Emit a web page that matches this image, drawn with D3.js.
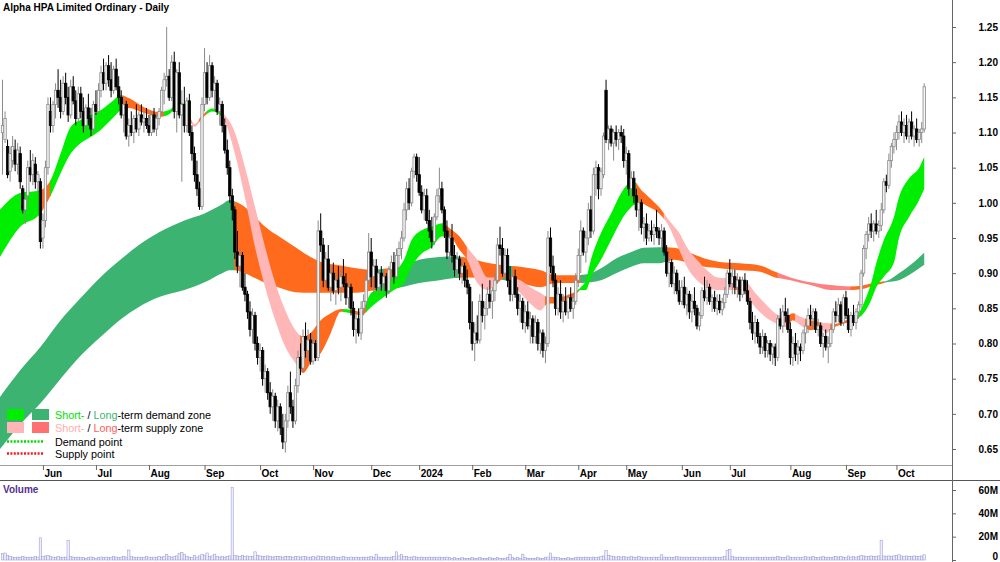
<!DOCTYPE html>
<html>
<head>
<meta charset="utf-8">
<script src="https://cdn.jsdelivr.net/npm/d3@7"></script>
<style>
  body { margin: 0; background: #fff; }
  text { font-family: "Liberation Sans", Arial, sans-serif; }
</style>
</head>
<body>
<svg id="chart" width="1000" height="562"></svg>
<script>
// ---- data (prices in thousandths of a dollar, volume in millions) ----
var title = "Alpha HPA Limited Ordinary - Daily";

var monthLabels = ["Jun","Jul","Aug","Sep","Oct","Nov","Dec","2024","Feb","Mar","Apr","May","Jun","Jul","Aug","Sep","Oct"];
var monthIdx = [16,37,58,80,102,123,146,165,186,207,228,247,269,288,312,334,354];

var priceTicks = [0.65,0.70,0.75,0.80,0.85,0.90,0.95,1.00,1.05,1.10,1.15,1.20,1.25];
var volTicks = [0, 20, 40, 60];
var volTickLabels = ["0", "20M", "40M", "60M"];

var opens = [
  1100,1090,1080,1045,1060,1075,1055,1070,1020,990,
  1010,1050,1040,1055,1030,1030,950,975,1050,1130,
  1110,1140,1160,1150,1130,1170,1150,1125,1165,1145,
  1120,1155,1130,1110,1135,1120,1105,1140,1130,1160,
  1185,1170,1195,1175,1160,1190,1165,1150,1125,1140,
  1095,1110,1100,1120,1105,1125,1115,1120,1110,1100,
  1125,1105,1120,1130,1160,1175,1180,1150,1200,1130,
  1185,1125,1140,1110,1145,1100,1070,1040,1020,995,
  1140,1185,1150,1195,1160,1170,1130,1140,1110,1075,
  1050,1010,990,930,910,925,880,870,845,820,
  840,800,780,790,750,760,730,710,725,690,
  710,680,660,690,730,710,690,740,780,765,
  810,790,805,775,800,780,960,940,890,920,
  880,900,875,890,880,895,885,865,880,850,
  820,835,815,850,860,890,930,895,910,880,
  900,885,895,875,905,915,895,925,935,950,
  990,1020,1000,1045,1065,1040,1015,990,1010,975,
  960,945,980,1010,1020,990,960,930,950,925,
  905,920,900,910,890,880,830,800,815,805,
  860,840,850,870,860,875,890,940,935,900,
  925,890,870,895,870,850,860,830,845,825,
  835,810,830,800,815,790,800,950,910,890,
  850,870,845,860,845,865,850,860,890,925,
  960,930,950,990,960,1040,1050,1020,1040,1160,
  1090,1105,1085,1100,1090,1100,1095,1060,1070,1020,
  1035,1010,990,1000,965,970,950,960,955,965,
  960,950,960,930,900,915,885,900,875,860,
  880,855,870,845,860,850,825,840,875,865,
  880,860,865,850,860,848,858,870,900,885,
  895,880,890,870,890,875,860,830,815,830,
  810,795,810,790,800,785,795,780,835,825,
  845,840,820,780,800,785,795,790,815,825,
  840,835,845,820,825,800,810,795,800,820,
  845,840,855,830,865,840,820,840,830,845,
  855,900,935,955,970,960,970,960,968,990,
  1030,1025,1060,1080,1090,1100,1115,1100,1110,1095,
  1115,1095,1105,1090,1100,1105
];
var highs = [
  1175,1130,1090,1080,1095,1090,1085,1080,1025,1010,
  1060,1075,1070,1065,1045,1035,985,1060,1150,1150,
  1145,1170,1190,1175,1180,1185,1165,1175,1180,1160,
  1165,1165,1150,1140,1155,1135,1145,1160,1170,1195,
  1205,1200,1210,1200,1195,1205,1180,1160,1150,1145,
  1120,1130,1125,1140,1130,1140,1130,1135,1125,1130,
  1135,1125,1135,1165,1185,1250,1190,1210,1215,1190,
  1200,1160,1165,1150,1155,1110,1080,1060,1030,1150,
  1220,1200,1210,1200,1180,1175,1150,1145,1120,1090,
  1060,1020,995,960,935,930,900,875,860,850,
  845,810,800,795,770,765,745,735,730,720,
  715,700,700,740,760,720,750,790,800,820,
  830,820,815,810,805,975,985,950,930,940,
  910,915,900,910,905,920,900,890,885,860,
  845,850,860,870,900,957,950,920,920,905,
  910,905,900,910,925,930,935,945,960,1000,
  1030,1035,1050,1070,1070,1065,1025,1020,1020,990,
  980,985,1020,1050,1030,995,975,960,970,940,
  930,925,920,915,905,885,860,830,840,870,
  885,860,880,890,880,900,950,966,950,935,
  935,910,900,905,880,870,865,855,860,845,
  840,840,835,820,820,810,960,965,925,900,
  880,890,870,880,870,880,870,900,935,975,
  965,960,1000,1010,1050,1060,1055,1050,1100,1175,
  1110,1110,1105,1110,1105,1110,1105,1080,1075,1045,
  1045,1020,1010,1005,980,985,970,975,970,990,
  965,970,965,940,925,920,910,905,890,890,
  895,880,875,870,880,855,845,880,895,890,
  885,870,875,870,870,865,880,905,920,910,
  905,900,895,895,900,890,865,845,840,835,
  815,820,815,805,805,800,800,840,850,855,
  865,850,830,810,815,805,800,820,830,850,
  855,850,850,835,830,815,820,810,825,850,
  860,865,860,870,875,850,845,855,850,860,
  905,940,960,980,985,975,990,975,1000,1035,
  1040,1070,1085,1100,1110,1125,1130,1120,1125,1120,
  1130,1110,1120,1105,1115,1170
];
var lows = [
  1040,1085,1035,1030,1050,1045,1040,1020,985,970,
  1000,1030,1025,1020,1015,935,935,965,1040,1100,
  1100,1120,1135,1120,1125,1140,1115,1120,1140,1110,
  1115,1120,1100,1100,1110,1095,1100,1125,1125,1150,
  1160,1160,1165,1150,1155,1160,1140,1120,1100,1090,
  1080,1095,1085,1100,1095,1110,1100,1105,1095,1095,
  1100,1095,1110,1125,1140,1165,1145,1145,1120,1100,
  1120,1030,1100,1100,1095,1060,1030,1010,990,990,
  1130,1140,1145,1150,1130,1125,1110,1100,1070,1040,
  1000,975,920,900,880,875,860,835,810,800,
  790,770,760,740,730,720,700,690,680,675,
  670,650,645,680,700,680,685,730,755,760,
  780,775,770,770,775,775,930,880,885,875,
  860,870,855,870,860,880,855,850,840,810,
  800,810,805,840,850,885,880,870,875,870,
  875,870,865,870,890,885,890,905,920,945,
  975,990,995,1035,1030,1010,985,975,970,950,
  935,940,975,1000,985,950,920,905,915,895,
  895,890,885,880,870,820,790,775,800,800,
  830,820,840,850,835,860,885,925,895,890,
  880,860,860,865,840,830,820,815,820,800,
  800,800,790,785,780,772,795,900,880,840,
  840,835,830,840,835,845,835,855,880,900,
  925,915,940,950,955,1010,1005,1010,1035,1085,
  1075,1080,1060,1080,1075,1085,1050,1040,1010,1005,
  1000,980,960,955,945,940,945,945,940,950,
  940,935,925,895,880,880,870,870,855,855,
  850,840,835,830,840,820,818,835,860,855,
  855,845,845,840,843,840,850,865,880,870,
  870,865,860,865,870,855,820,805,800,800,
  785,785,780,780,775,770,768,775,820,815,
  830,815,770,768,775,770,775,785,800,815,
  825,820,815,810,795,780,790,772,795,815,
  830,830,825,825,835,815,810,825,820,835,
  850,895,920,945,950,945,955,950,960,985,
  1015,1020,1050,1070,1075,1090,1095,1085,1090,1085,
  1090,1080,1085,1080,1085,1100
];
var closes = [
  1110,1120,1040,1070,1080,1055,1075,1030,990,1005,
  1050,1040,1060,1030,1040,945,975,1050,1140,1110,
  1140,1160,1150,1130,1170,1150,1125,1165,1145,1120,
  1155,1130,1110,1135,1120,1105,1140,1130,1160,1185,
  1170,1195,1175,1160,1190,1165,1150,1125,1140,1095,
  1110,1100,1120,1105,1125,1115,1120,1110,1100,1125,
  1105,1120,1130,1160,1175,1180,1150,1200,1130,1185,
  1125,1140,1110,1145,1100,1070,1040,1020,995,1140,
  1185,1150,1195,1160,1170,1130,1140,1110,1075,1050,
  1010,990,930,910,925,880,870,845,820,840,
  800,780,790,750,760,730,710,725,690,710,
  680,660,690,730,710,690,740,780,765,810,
  790,805,775,800,780,960,940,890,920,880,
  900,875,890,880,895,885,865,880,850,820,
  835,815,850,860,890,930,895,910,880,900,
  885,895,875,905,915,895,925,935,950,990,
  1020,1000,1045,1065,1040,1015,990,1010,975,960,
  945,980,1010,1020,990,960,930,950,925,905,
  920,900,910,890,880,830,800,815,805,860,
  840,850,870,860,875,890,940,935,900,925,
  890,870,895,870,850,860,830,845,825,835,
  810,830,800,815,790,800,950,910,890,850,
  870,845,860,845,865,850,860,890,925,960,
  930,950,990,960,1040,1050,1020,1045,1095,1090,
  1105,1085,1100,1090,1100,1095,1060,1070,1020,1035,
  1010,990,1000,965,970,950,960,955,965,960,
  950,960,930,900,915,885,900,875,860,880,
  855,870,845,860,850,825,840,875,865,880,
  860,865,850,860,848,858,870,900,885,895,
  880,890,870,890,875,860,830,815,830,810,
  795,810,790,800,785,795,780,835,825,845,
  840,820,780,800,785,795,790,815,825,840,
  835,845,820,825,800,810,795,800,820,845,
  840,855,830,865,840,820,840,830,845,855,
  900,935,955,970,960,970,960,968,990,1030,
  1025,1060,1080,1090,1100,1115,1100,1110,1095,1115,
  1095,1105,1090,1100,1105,1165
];
var volumes = [
  5.5,6,4,3,2.5,2,2.5,2,3,2.5,
  2,2.5,2,3,2.5,19,3,3.5,4,3,
  2.5,2,3,2.5,2,2.5,17,3,2.5,2,
  2.5,2,2,1.5,2,2.5,2,1.5,2,2.5,
  2,2.5,2,2,3,2.5,2,2.5,3,2.5,
  8.5,3,2.5,2,2.5,2,2,3,2.5,2,
  2.5,2,3,2.5,3,5,3,2.5,3,3.5,
  5.5,6.5,5,3,2.5,2,4,2.5,3.5,5,
  4,6,3,3.5,5,3,2.5,3,2.5,3,
  3.5,62,4,3.5,3,4,3,3.5,3,3,
  7,4,3.5,3,3,3.5,3,2.5,3,3,
  3,2.5,3,3,3,2.5,3,3,2.5,3,
  3,2.5,2.5,3,2.5,3.5,3,3,2.5,3,
  2.5,3,2.5,2,2.5,3,2.5,2,2.5,2,
  2.5,2,2,2.5,2,2.5,3,2,5,2.5,
  2,2,2.5,2,2.5,3,7,3.5,5,3,
  3,2.5,2.5,3,2.5,2,2.5,2,2,2.5,
  2,2.5,2,2.5,2,2,2.5,2,1.5,2,
  1.5,1.5,2,1.5,1.5,1.5,2,1.5,1.5,2,
  1.5,1.5,1.5,2,1.5,1.5,2,1.5,1.5,1.5,
  2,5,2,1.5,2,1.5,5,2,1.5,1.5,
  1.5,1.5,2,1.5,1.5,2,2.5,6,2.5,2,
  2,1.5,1.5,1.5,2,1.5,1.5,2,2.5,2,
  2,2.5,2,2,2.5,2,2.5,3,3.5,8,
  4,3.5,3,2.5,3,2.5,3,2.5,2.5,3,
  2.5,2,3,2.5,2,2.5,2,2,2.5,2,
  2.5,4.5,2.5,2,2.5,2,2,3,2.5,2.5,
  2,2.5,2,2.5,2,2.5,2,2,2.5,2,
  2.5,2,2.5,2,2,2.5,3,8,9,3,
  2.5,2,2.5,2,2,2.5,2,2,2,2.5,
  2,2,2.5,2,2,2.5,2,3,2.5,2,
  2,3.5,2.5,2,2,2.5,2,2.5,3,2.5,
  2.5,3,2,2,2.5,3,2,2.5,2,2.5,
  3,2.5,3,2.5,2,3.5,2.5,3,2.5,3,
  4,3.5,3,3,3.5,3,3,3.5,17,3.5,
  3,3.5,3,3.5,4,4.5,3.5,3,3.5,3,
  3,3.5,3,3,3.5,4.5
];

// short-term zone edges (day index, upper, lower)
var shortAt = [-1,7,15,19,23,27,31,35,39,43,47,50,56,62,66,70,72,76,79,83,
  87,92,96,100,104,108,112,116,119,122,126,130,134,138,142,146,151,155,159,162,
  166,170,174,177,181,184,188,192,196,199,202,205,209,213,216,220,226,229,231,233,
  237,241,245,248,250,253,256,260,264,268,271,275,279,283,287,293,295,298,302,306,
  310,313,316,320,324,326,330,333,336,338,341,344,346,349,353,355,359,363,365];
var shortHi = [0.990,1.014,1.018,1.032,1.070,1.108,1.118,1.125,1.132,1.143,
  1.153,1.149,1.136,1.129,1.132,1.143,1.140,1.112,1.124,1.134,
  1.128,1.100,1.051,0.994,0.937,0.886,0.847,0.819,0.810,0.815,
  0.833,0.843,0.849,0.848,0.845,0.872,0.880,0.900,0.919,0.947,
  0.961,0.966,0.971,0.964,0.952,0.937,0.919,0.894,0.894,0.904,
  0.893,0.890,0.880,0.872,0.866,0.866,0.872,0.880,0.890,0.919,
  0.957,0.985,1.014,1.028,1.030,1.018,1.008,0.994,0.975,0.957,
  0.937,0.919,0.904,0.894,0.893,0.890,0.886,0.872,0.857,0.843,
  0.838,0.843,0.838,0.833,0.830,0.829,0.828,0.832,0.835,0.838,
  0.857,0.886,0.914,0.947,0.980,1.008,1.035,1.050,1.065];
var shortLo = [0.923,0.966,0.985,1.010,1.042,1.070,1.085,1.094,1.104,1.118,
  1.132,1.135,1.128,1.122,1.126,1.139,1.136,1.108,1.120,1.130,
  1.122,1.070,1.008,0.937,0.880,0.833,0.795,0.772,0.758,0.772,
  0.786,0.815,0.845,0.843,0.840,0.852,0.866,0.876,0.886,0.909,
  0.928,0.937,0.952,0.952,0.933,0.919,0.886,0.876,0.886,0.894,
  0.886,0.872,0.857,0.847,0.857,0.857,0.865,0.876,0.876,0.894,
  0.919,0.947,0.975,0.990,0.997,0.999,0.994,0.985,0.966,0.933,
  0.909,0.890,0.880,0.876,0.876,0.876,0.866,0.852,0.838,0.829,
  0.823,0.833,0.826,0.819,0.822,0.815,0.824,0.828,0.831,0.834,
  0.843,0.862,0.880,0.895,0.915,0.950,0.980,1.004,1.020];
// D = demand, S = supply, X = supply (turning)
var shortZones = [[-1,15,"D"],[15,19,"X"],[19,47,"D"],[47,64,"X"],[64,72,"D"],[72,75,"X"],
  [75,78,"S"],[78,81,"X"],[81,87,"D"],[87,118,"S"],[118,135,"X"],[135,138,"D"],[138,144,"X"],
  [144,175,"D"],[175,184,"X"],[184,195,"S"],[195,202,"X"],[202,215,"S"],[215,228,"X"],
  [228,251,"D"],[251,262,"X"],[262,290,"S"],[290,294,"X"],[294,311,"S"],[311,314,"X"],
  [314,318,"S"],[318,324,"X"],[324,328,"S"],[328,338,"X"],[338,366,"D"]];

// long-term zone edges
var longAt = [-1,7,15,23,31,39,47,54,62,72,80,87,90,92,96,100,104,110,116,122,
  128,134,140,146,153,158,165,173,179,185,193,199,205,213,219,227,233,237,243,249,
  254,260,266,272,278,284,292,300,306,312,320,328,336,340,346,350,355,361,365];
var longHi = [0.724,0.762,0.795,0.833,0.865,0.895,0.920,0.940,0.958,0.975,
  0.985,0.998,1.004,1.002,0.994,0.980,0.966,0.951,0.937,0.923,
  0.914,0.911,0.907,0.905,0.907,0.909,0.919,0.923,0.924,0.921,
  0.914,0.911,0.909,0.904,0.897,0.897,0.900,0.907,0.921,0.930,
  0.936,0.937,0.936,0.929,0.921,0.916,0.914,0.911,0.902,0.894,
  0.887,0.883,0.881,0.882,0.887,0.889,0.900,0.916,0.929];
var longLo = [0.650,0.685,0.715,0.750,0.783,0.810,0.835,0.852,0.866,0.876,
  0.887,0.900,0.904,0.904,0.900,0.893,0.886,0.879,0.873,0.872,
  0.872,0.872,0.872,0.875,0.877,0.880,0.886,0.890,0.893,0.894,
  0.893,0.890,0.886,0.880,0.886,0.886,0.887,0.890,0.900,0.909,
  0.914,0.914,0.919,0.914,0.909,0.907,0.904,0.902,0.894,0.890,
  0.883,0.876,0.876,0.877,0.883,0.887,0.890,0.902,0.912];
var longZones = [[-1,92,"D"],[92,148,"X"],[148,151,"D"],[151,157,"X"],[157,181,"D"],
  [181,198,"X"],[198,202,"D"],[202,229,"X"],[229,263,"D"],[263,307,"X"],[307,336,"S"],
  [336,349,"X"],[349,366,"D"]];

var shortColors = { D: "#00ee00", S: "#ffb6b6", X: "#ff6a1c" };
var longColors = { D: "#3cb371", S: "#ff8080", X: "#ff6a1c" };

// ---- layout ----
var svg = d3.select("#chart");
var axisX = 952;
var N = closes.length;

var x = d3.scaleLinear().domain([-1, N + 10]).range([0, axisX]);
var y = d3.scaleLinear().domain([0.65, 1.25]).range([449, 27]);
var yv = d3.scaleLinear().domain([0, 60]).range([560, 490]);

var defs = svg.append("defs");
defs.append("clipPath").attr("id", "plotClip")
  .append("rect").attr("x", 0).attr("y", 0).attr("width", axisX).attr("height", 465);

var plot = svg.append("g").attr("clip-path", "url(#plotClip)");

// Draw a zone band, coloured piece by piece
function drawBand(at, hi, lo, zones, colors, name) {
  var pts = at.map(function (d, k) { return { i: d, hi: hi[k], lo: lo[k] }; });
  var area = d3.area()
    .x(function (d) { return x(d.i); })
    .y0(function (d) { return y(d.lo); })
    .y1(function (d) { return y(d.hi); })
    .curve(d3.curveMonotoneX);
  var pathD = area(pts);
  var g = plot.append("g");
  zones.forEach(function (z, k) {
    var id = name + k;
    defs.append("clipPath").attr("id", id)
      .append("rect")
      .attr("x", x(z[0]) - 0.4)
      .attr("width", x(z[1]) - x(z[0]) + 0.8)
      .attr("y", 0)
      .attr("height", 465);
    g.append("path")
      .attr("d", pathD)
      .attr("fill", colors[z[2]])
      .attr("clip-path", "url(#" + id + ")");
  });
}

drawBand(longAt, longHi, longLo, longZones, longColors, "longZ");
drawBand(shortAt, shortHi, shortLo, shortZones, shortColors, "shortZ");

// Candles
var days = d3.range(N);
function isUp(i) { return closes[i] >= opens[i]; }

var candle = plot.append("g").selectAll("g").data(days).join("g");
candle.append("line")
  .attr("x1", function (i) { return x(i); })
  .attr("x2", function (i) { return x(i); })
  .attr("y1", function (i) { return y(Math.max(highs[i], opens[i], closes[i]) / 1000); })
  .attr("y2", function (i) { return y(Math.min(lows[i], opens[i], closes[i]) / 1000); })
  .attr("stroke", function (i) { return isUp(i) ? "#8a8a8a" : "#000"; })
  .attr("stroke-width", 1);
candle.append("rect")
  .attr("x", function (i) { return x(i) - 1.2; })
  .attr("width", 2.4)
  .attr("y", function (i) { return y(Math.max(opens[i], closes[i]) / 1000); })
  .attr("height", function (i) {
    return Math.max(1, y(Math.min(opens[i], closes[i]) / 1000) - y(Math.max(opens[i], closes[i]) / 1000));
  })
  .attr("fill", function (i) { return isUp(i) ? "#f4f4f4" : "#000"; })
  .attr("stroke", function (i) { return isUp(i) ? "#8a8a8a" : "#000"; })
  .attr("stroke-width", 0.8);

// Volume
svg.append("g").selectAll("rect").data(days).join("rect")
  .attr("x", function (i) { return x(i) - 1.2; })
  .attr("width", 2.4)
  .attr("y", function (i) { return yv(volumes[i]); })
  .attr("height", function (i) { return yv(0) - yv(volumes[i]); })
  .attr("fill", "#eeeefa")
  .attr("stroke", "#9494d8")
  .attr("stroke-width", 0.5);

// Frame lines
svg.append("line").attr("x1", 0).attr("x2", axisX).attr("y1", 465.5).attr("y2", 465.5)
  .attr("stroke", "#a0a0a0");
svg.append("line").attr("x1", 0).attr("x2", 1000).attr("y1", 480.5).attr("y2", 480.5)
  .attr("stroke", "#555").attr("stroke-width", 1.2);
svg.append("line").attr("x1", axisX + 0.5).attr("x2", axisX + 0.5).attr("y1", 0).attr("y2", 562)
  .attr("stroke", "#666");

// Month axis
var xAxis = d3.axisBottom(x)
  .tickValues(monthIdx)
  .tickSize(5)
  .tickFormat(function (d, k) { return monthLabels[k]; });
var gx = svg.append("g").attr("transform", "translate(0,465)").call(xAxis);
gx.select(".domain").remove();
gx.selectAll(".tick line").attr("stroke", "#666");
gx.selectAll(".tick text")
  .attr("text-anchor", "start")
  .attr("x", 1)
  .attr("y", 5)
  .attr("dy", "0.71em")
  .attr("fill", "#000")
  .style("font", "bold 10px 'Liberation Sans', Arial, sans-serif");

// Price axis
var yAxis = d3.axisRight(y)
  .tickValues(priceTicks)
  .tickSize(4)
  .tickFormat(d3.format(".2f"));
var gy = svg.append("g").attr("transform", "translate(" + axisX + ",0)").call(yAxis);
gy.select(".domain").remove();
gy.selectAll(".tick line").attr("stroke", "#666");
gy.selectAll(".tick text")
  .attr("text-anchor", "end")
  .attr("x", 1000 - axisX - 2)
  .attr("fill", "#000")
  .style("font", "bold 10px 'Liberation Sans', Arial, sans-serif");

// Volume axis
var vAxis = d3.axisRight(yv)
  .tickValues(volTicks)
  .tickSize(4)
  .tickFormat(function (d, k) { return volTickLabels[k]; });
var gv = svg.append("g").attr("transform", "translate(" + axisX + ",0)").call(vAxis);
gv.select(".domain").remove();
gv.selectAll(".tick line").attr("stroke", "#666");
gv.selectAll(".tick text")
  .attr("text-anchor", "end")
  .attr("x", 1000 - axisX - 2)
  .attr("fill", "#000")
  .attr("dy", function (d) { return d === 0 ? "-0.05em" : "0.32em"; })
  .style("font", "bold 10px 'Liberation Sans', Arial, sans-serif");

// Title and panel label
svg.append("text").attr("x", 3).attr("y", 11)
  .style("font", "bold 10px 'Liberation Sans', Arial, sans-serif")
  .text(title);
svg.append("text").attr("x", 3).attr("y", 493)
  .attr("fill", "#55308f")
  .style("font", "bold 10px 'Liberation Sans', Arial, sans-serif")
  .text("Volume");

// Legend
var legend = svg.append("g").style("font", "10.8px 'Liberation Sans', Arial, sans-serif");
var zoneRows = [
  { top: 409, sw: [shortColors.D, longColors.D], parts: [["Short-", "#00dd00"], [" / ", "#000"], ["Long", "#3cb371"], ["-term demand zone", "#000"]] },
  { top: 422, sw: [shortColors.S, "#ff7070"], parts: [["Short-", "#ffadad"], [" / ", "#000"], ["Long", "#ff6060"], ["-term supply zone", "#000"]] }
];
zoneRows.forEach(function (r) {
  legend.append("rect").attr("x", 7).attr("y", r.top).attr("width", 17).attr("height", 11).attr("fill", r.sw[0]);
  legend.append("rect").attr("x", 32).attr("y", r.top).attr("width", 17).attr("height", 11).attr("fill", r.sw[1]);
  var t = legend.append("text").attr("x", 55).attr("y", r.top + 10);
  r.parts.forEach(function (p) { t.append("tspan").attr("fill", p[1]).text(p[0]); });
});
var pointRows = [
  { yy: 441.5, color: "#00dd00", label: "Demand point" },
  { yy: 453.5, color: "#ff1a1a", label: "Supply point" }
];
pointRows.forEach(function (r) {
  legend.append("line").attr("x1", 7).attr("x2", 44).attr("y1", r.yy).attr("y2", r.yy)
    .attr("stroke", r.color).attr("stroke-width", 2.5).attr("stroke-dasharray", "2,1.4");
  legend.append("text").attr("x", 55).attr("y", r.yy + 4).attr("fill", "#000").text(r.label);
});
</script>
</body>
</html>
